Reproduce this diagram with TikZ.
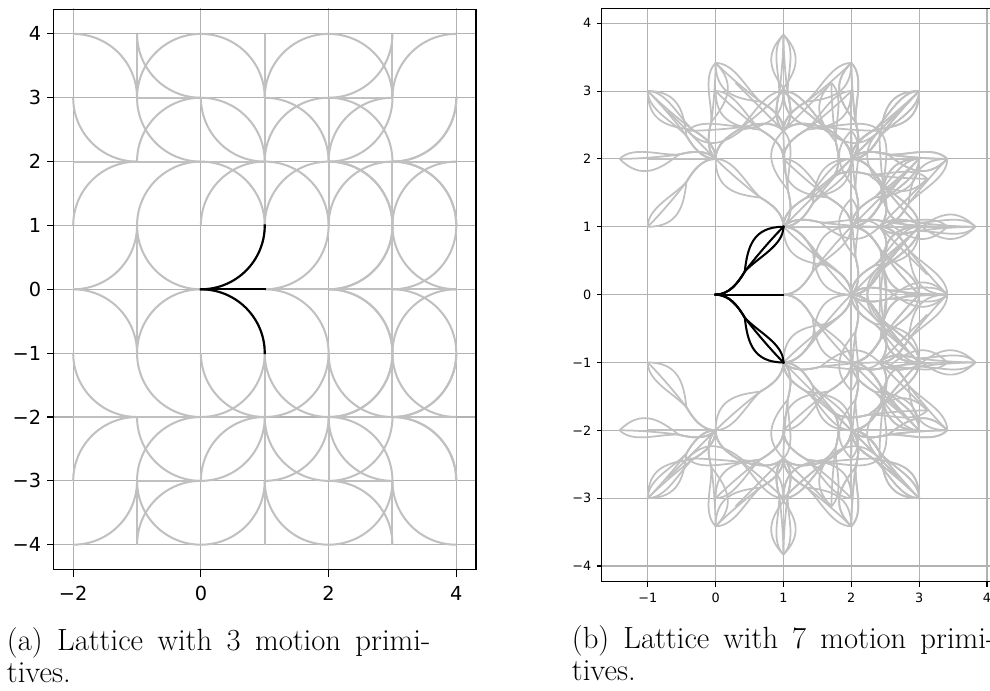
\documentclass[tikz,border=0pt]{standalone}
\usepackage{fontspec}
\newfontfamily\tickfont{DejaVu Sans}
\definecolor{latgray}{RGB}{192,192,192}
\definecolor{gridgray}{RGB}{178,178,178}
\tikzset{
  gridline/.style={draw=gridgray, line width=0.8pt},
  latA/.style={draw=latgray, line width=1.5pt},
  blkA/.style={draw=black, line width=1.6pt, line cap=rect},
  latB/.style={draw=latgray, line width=1.3pt},
  blkB/.style={draw=black, line width=1.5pt, line cap=rect},
  spine/.style={draw=black, line width=0.8pt},
  tickmark/.style={draw=black, line width=0.8pt},
  tickA/.style={font=\tickfont\fontsize{14.5}{17}\selectfont, inner sep=0pt},
  tickB/.style={font=\tickfont\fontsize{9.6}{11.5}\selectfont, inner sep=0pt},
  captxt/.style={font=\fontsize{23}{27}\selectfont, inner sep=0pt, anchor=base west},
}
% three primitives of lattice (a), heading east from the origin
\newcommand\fanA[1]{%
  \draw[#1] (0,0) -- (1,0);
  \draw[#1] (0,0) arc[start angle=-90,end angle=0,radius=1];
  \draw[#1] (0,0) arc[start angle=90,end angle=0,radius=1];}
% seven primitives of lattice (b)
\newcommand\fanBhalf[1]{%
  \draw[#1] (0,0) .. controls (0.2,0) and (0.33,0.17) .. (0.43,0.34) .. controls (0.47,0.7) and (0.55,1) .. (1,1);
  \draw[#1] (0,0) .. controls (0.2,0) and (0.33,0.17) .. (0.43,0.34) .. controls (0.55,0.5) and (0.8,0.8) .. (1,1);
  \draw[#1] (0,0) .. controls (0.2,0) and (0.33,0.17) .. (0.43,0.34) .. controls (0.62,0.55) and (1,0.72) .. (1,1);}
\newcommand\fanB[1]{%
  \draw[#1] (0,0) -- (1,0);
  \fanBhalf{#1}
  \begin{scope}[yscale=-1]\fanBhalf{#1}\end{scope}}
\def\primlist{1/0/0,1/1/0,1/1/45,1/1/90,1/-1/0,1/-1/-45,1/-1/-90}
\begin{document}
\begin{tikzpicture}[x=0.75pt,y=-0.75pt]
\useasboundingbox (0,0) rectangle (990,690);
\fill[white] (0,0) rectangle (990,690);

% ================= panel (a) =================
\begin{scope}[shift={(200.9,289.3)}, x=47.8875pt, y=47.8875pt]
  \foreach \gx in {-2,0,2,4} \draw[gridline] (\gx,-4.4) -- (\gx,4.4);
  \foreach \gy in {-4,...,4} \draw[gridline] (-2.3,\gy) -- (4.3,\gy);
  \fanA{latA}
  \foreach \sa in {0,1,-1}{%
    \pgfmathsetmacro\Xa{1}\pgfmathsetmacro\Ya{\sa}\pgfmathsetmacro\Ha{90*(\sa)}
    \begin{scope}[shift={(\Xa,\Ya)},rotate=\Ha]\fanA{latA}\end{scope}
    \foreach \sb in {0,1,-1}{%
      \pgfmathsetmacro\Xb{\Xa+cos(\Ha)-(\sb)*sin(\Ha)}
      \pgfmathsetmacro\Yb{\Ya+sin(\Ha)+(\sb)*cos(\Ha)}
      \pgfmathsetmacro\Hb{\Ha+90*(\sb)}
      \begin{scope}[shift={(\Xb,\Yb)},rotate=\Hb]\fanA{latA}\end{scope}
      \foreach \sc in {0,1,-1}{%
        \pgfmathsetmacro\Xc{\Xb+cos(\Hb)-(\sc)*sin(\Hb)}
        \pgfmathsetmacro\Yc{\Yb+sin(\Hb)+(\sc)*cos(\Hb)}
        \pgfmathsetmacro\Hc{\Hb+90*(\sc)}
        \begin{scope}[shift={(\Xc,\Yc)},rotate=\Hc]\fanA{latA}\end{scope}
      }
    }
  }
  \fanA{blkA}
\end{scope}
\draw[spine] (53.5,9.3) rectangle (476,569.8);
\foreach \k/\lab in {4/4,3/3,2/2,1/1,0/0,-1/−1,-2/−2,-3/−3,-4/−4}{
  \draw[tickmark] (53.5,289.3-63.85*\k) -- (46.5,289.3-63.85*\k);
  \node[tickA,anchor=east] (ya\k) at (41.5,289.3-63.85*\k) {\lab};
}
\foreach \k/\lab in {-2/−2,0/0,2/2,4/4}{
  \draw[tickmark] (200.9+63.85*\k,569.8) -- (200.9+63.85*\k,576.5);
  \node[tickA] (xa\k) at (200.9+63.85*\k,593.3) {\lab};
}
\node[captxt] (capa1) at (6.7,650.5) {\makebox[317.5pt][s]{(a) Lattice with 3 motion primi-}};
\node[captxt] (capa2) at (6.7,682.5) {tives.};

% ================= panel (b) =================
\begin{scope}[shift={(715.6,294.6)}, x=50.8875pt, y=50.8875pt]
  \foreach \gx in {-1,...,4} \draw[gridline] (\gx,-4.23) -- (\gx,4.23);
  \foreach \gy in {-4,...,4} \draw[gridline] (-1.68,\gy) -- (4.2,\gy);
  \fanB{latB}
  \foreach \ua/\va/\ga in \primlist {%
    \pgfmathsetmacro\Xa{\ua}\pgfmathsetmacro\Ya{\va}\pgfmathsetmacro\Ha{\ga}
    \begin{scope}[shift={(\Xa,\Ya)},rotate=\Ha]\fanB{latB}\end{scope}
    \foreach \ub/\vb/\gb in \primlist {%
      \pgfmathsetmacro\Xb{\Xa+(\ub)*cos(\Ha)-(\vb)*sin(\Ha)}
      \pgfmathsetmacro\Yb{\Ya+(\ub)*sin(\Ha)+(\vb)*cos(\Ha)}
      \pgfmathsetmacro\Hb{\Ha+(\gb)}
      \begin{scope}[shift={(\Xb,\Yb)},rotate=\Hb]\fanB{latB}\end{scope}
    }
  }
  \fanB{blkB}
\end{scope}
\draw[spine] (601.8,8.3) rectangle (993,581.7);
\foreach \k/\lab in {4/4,3/3,2/2,1/1,0/0,-1/−1,-2/−2,-3/−3,-4/−4}{
  \draw[tickmark] (601.8,294.6-67.85*\k) -- (596.8,294.6-67.85*\k);
  \node[tickB,anchor=east] (yb\k) at (591.5,294.6-67.85*\k) {\lab};
}
\foreach \k/\lab in {-1/−1,0/0,1/1,2/2,3/3,4/4}{
  \draw[tickmark] (715.6+67.85*\k,581.7) -- (715.6+67.85*\k,586.5);
  \node[tickB] (xb\k) at (715.6+67.85*\k,598) {\lab};
}
\node[captxt] (capb1) at (571.7,648.5) {\makebox[317.5pt][s]{(b) Lattice with 7 motion primi-}};
\node[captxt] (capb2) at (571.7,680.5) {tives.};
\end{tikzpicture}
\end{document}
